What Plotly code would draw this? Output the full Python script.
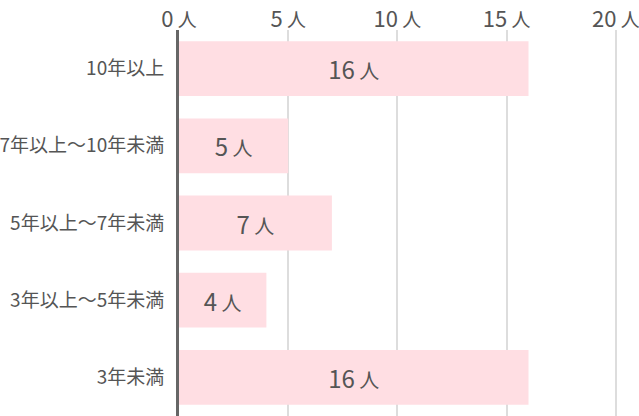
import plotly.graph_objects as go

# Data
categories = ["10年以上", "7年以上〜10年未満", "5年以上〜7年未満", "3年以上〜5年未満", "3年未満"]
counts = [16, 5, 7, 4, 16]
tick_values = [0, 5, 10, 15, 20]
unit = "人"

FONT = "Noto Sans CJK JP"
TEXT = "#555555"

def with_unit(n, size):
    # number big, unit a bit smaller
    return f'{n}<span style="font-size:{size}px"> {unit}</span>'

bar_text = [with_unit(c, 20) for c in counts]
tick_text = [with_unit(v, 19) for v in tick_values]

trace = go.Bar(
    x=counts,
    y=categories,
    orientation="h",
    marker=dict(color="#ffdee3", line=dict(width=0)),
    text=bar_text,
    texttemplate="%{text}",
    textposition="inside",
    insidetextanchor="middle",
    textfont=dict(family=FONT, size=24, color=TEXT),
    hoverinfo="skip",
)

fig = go.Figure(data=[trace])
fig.update_layout(
    width=639,
    height=416,
    margin=dict(l=179, r=10, t=30, b=0),
    paper_bgcolor="white",
    plot_bgcolor="white",
    bargap=0.29,
    showlegend=False,
    font=dict(family=FONT, color=TEXT),
    uniformtext=dict(minsize=8, mode="show"),
)
fig.update_xaxes(
    side="top",
    range=[0, 20.6],
    tickvals=tick_values,
    ticktext=tick_text,
    tickfont=dict(family=FONT, size=22, color=TEXT),
    showgrid=True,
    gridcolor="#dddddd",
    gridwidth=1.5,
    zeroline=False,
    showline=False,
    ticks="",
    automargin=False,
    ticklabeloverflow="allow",
    ticklabelstandoff=-2,
)
fig.update_yaxes(
    autorange="reversed",
    tickfont=dict(family=FONT, size=19, color=TEXT),
    showline=True,
    linecolor="#666666",
    linewidth=3,
    showgrid=False,
    zeroline=False,
    ticks="",
    automargin=False,
    ticklabelstandoff=8,
)

# drop the browser's default 8px body margin so the chart fills the window
fig.write_html(
    "out.html",
    config={"displayModeBar": False},
    post_script="document.body.style.margin = '0';",
)
